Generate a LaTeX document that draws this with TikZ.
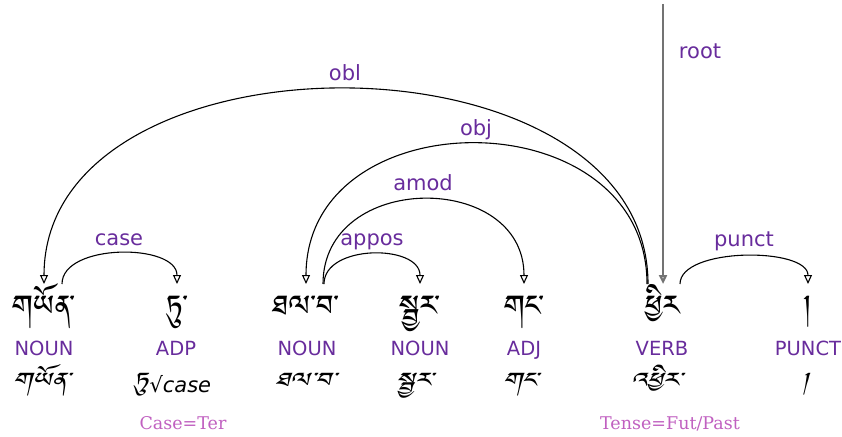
\documentclass[tikz,border=0pt]{standalone}
\usepackage{fontspec}
\usetikzlibrary{arrows.meta}
\setmainfont{DejaVu Sans}
\newfontfamily\featfont{DejaVu Serif}
% Tibetan script: take the first family that is installed
\newcommand\settibfonts[1]{%
  \newfontfamily\tibup[Script=Tibetan]{#1}%
  \newfontfamily\tibsl[Script=Tibetan,FakeSlant=0.25,FakeStretch=1.3]{#1}}
\IfFontExistsTF{Jomolhari}{\settibfonts{Jomolhari}}{%
 \IfFontExistsTF{Tibetan Machine Uni}{\settibfonts{Tibetan Machine Uni}}{%
  \IfFontExistsTF{FreeSerif}{\settibfonts{FreeSerif}}{\settibfonts{DejaVu Sans}}}}
\newcommand\tiblem{\tibsl\fontsize{26}{26}\selectfont}
\definecolor{labcol}{RGB}{104,44,156}
\definecolor{featcol}{RGB}{192,96,192}
\begin{document}
\begin{tikzpicture}[x=1pt,y=-1pt,
  word/.style={anchor=north,inner sep=0pt,text height=39pt,font=\tibup\fontsize{37}{37}\selectfont},
  tag/.style={anchor=base,inner sep=0pt,text=labcol,font=\fontsize{19.5}{19.5}\selectfont},
  lemma/.style={anchor=base,inner sep=0pt,font=\fontsize{21}{21}\selectfont},
  feat/.style={anchor=base,inner sep=0pt,text=featcol,font=\featfont\fontsize{17.5}{17.5}\selectfont},
  rel/.style={anchor=base,inner sep=0pt,text=labcol,font=\fontsize{21}{21}\selectfont},
  dep/.style={draw,line width=1.1pt,-{Triangle[open,length=9pt,width=8pt]}},
  rootline/.style={draw,line width=2.2pt,black!55,-{Triangle[open,length=9pt,width=8pt]}}]
\useasboundingbox (0,0) rectangle (842,436);

% words
\node[word] (w1) at (44,284) {གཡོན་};
\node[word] (w2) at (177,284) {ཏུ་};
\node[word] (w3) at (306,284) {ཐལ་བ་};
\node[word] (w4) at (420,284) {སྦྱར་};
\node[word] (w5) at (524,284) {གང་};
\node[word] (w6) at (663,284) {ཕྱིར};
\node[word] (w7) at (808,284) {།};

% part-of-speech tags
\node[tag] (t1) at (44,355) {NOUN};
\node[tag] (t2) at (176,355) {ADP};
\node[tag] (t3) at (307,355) {NOUN};
\node[tag] (t4) at (420,355) {NOUN};
\node[tag] (t5) at (524,355) {ADJ};
\node[tag] (t6) at (662,355) {VERB};
\node[tag] (t7) at (808,355) {PUNCT};

% lemmas
\node[lemma] (l1) at (41,392) {\tiblem གཡོན་};
\node[lemma] (l2) at (172,392) {{\tiblem ཏུ}\kern2pt\itshape √case};
\node[lemma] (l3) at (305,392) {\tiblem ཐལ་བ་};
\node[lemma] (l4) at (414,392) {\tiblem སྦྱར་};
\node[lemma] (l5) at (520,392) {\tiblem གང་};
\node[lemma] (l6) at (656,392) {\tiblem འཕྱིར་};
\node[lemma] (l7) at (804,392) {\tiblem །};

% morphological features
\node[feat] (f2) at (183,429) {Case=Ter};
\node[feat] (f6) at (670,429) {Tense=Fut/Past};

% dependency arcs
\draw[dep] ([xshift=18pt]w1.north) .. controls +(0,-41) and +(0,-41) .. (w2.north);
\draw[dep] ([xshift=-15pt]w6.north) .. controls +(0,-260) and +(0,-260) .. (w1.north);
\draw[dep] ([xshift=-16pt]w6.north) .. controls +(0,-187) and +(0,-187) .. (w3.north);
\draw[dep] ([xshift=17pt]w3.north) .. controls +(0,-113) and +(0,-113) .. (w5.north);
\draw[dep] ([xshift=18pt]w3.north) .. controls +(0,-40) and +(0,-40) .. (w4.north);
\draw[dep] ([xshift=17pt]w6.north) .. controls +(0,-37) and +(0,-37) .. (w7.north);
\coordinate (rtop) at (663,4);
\draw[rootline] (rtop) -- (w6.north);

% relation labels
\node[rel] (rcase) at (119,245) {case};
\node[rel] (robl) at (345,80) {obl};
\node[rel] (robj) at (476,135) {obj};
\node[rel] (ramod) at (423,190) {amod};
\node[rel] (rappos) at (372,245) {appos};
\node[rel] (rpunct) at (744,246) {punct};
\node[rel] (rroot) at (700,59) {root};
\end{tikzpicture}
\end{document}
